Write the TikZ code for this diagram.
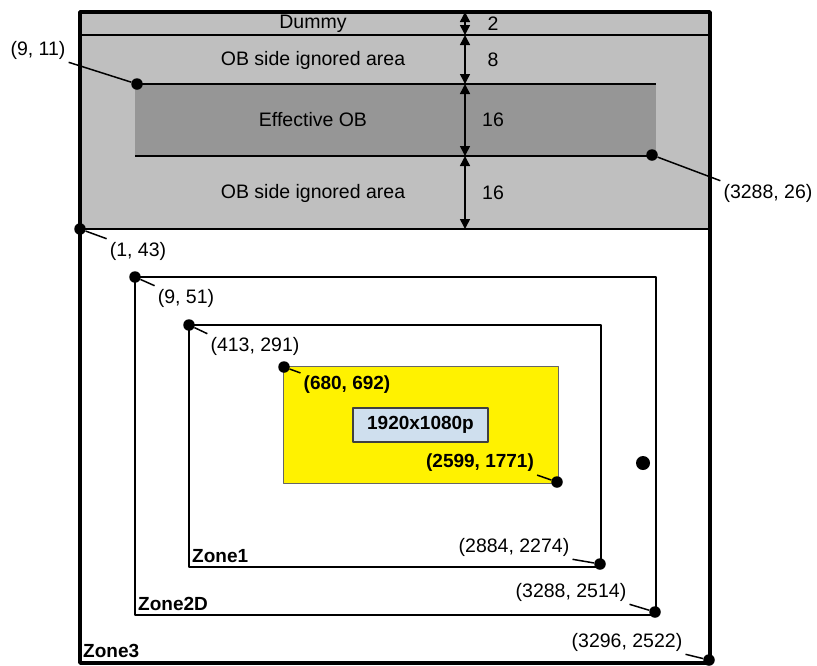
\documentclass[tikz,border=0pt]{standalone}
\usepackage{fontspec}
\setmainfont{Liberation Sans}
\usetikzlibrary{arrows.meta}
\definecolor{resblue}{RGB}{207,223,238}
\begin{document}
\begin{tikzpicture}[>={Triangle[length=10pt,width=10pt]},line join=round,x=1pt,y=-1pt,
	font=\fontsize{19.5}{22}\selectfont,
	dot/.style={circle,fill=black,inner sep=0pt,minimum size=11.5pt},
	lbl/.style={inner sep=3pt},
	bold/.style={font=\fontsize{19}{22}\selectfont\bfseries},
	zone/.style={line width=2pt},
	lead/.style={line width=1.5pt}]
	\useasboundingbox (0,0) rectangle (817,665);
	\fill[black!25] (80,12) rectangle (710,229); % OB area
	\fill[black!41] (135,84) rectangle (656,156); % Effective OB
	\draw[line width=1.5pt] (80,35)--(710,35) (80,229)--(710,229);
	\draw[line width=2pt] (135,84)--(656,84) (135,156)--(656,156);
	\node (dummy) at (313,24) {Dummy};
	\node (obtop) at (313,60) {OB side ignored area};
	\node (effob) at (313,120) {Effective OB};
	\node (obbot) at (313,193) {OB side ignored area};
	\foreach \ya/\yb/\t [count=\i] in {12/35/2,35/84/8,84/156/16,156/229/16}{
		\coordinate (ta\i) at (465,\ya);
		\coordinate (tb\i) at (465,\yb);
		\draw[<->,line width=1.5pt] (ta\i)--(tb\i);
		\node (dim\i) at (493,{(\ya+\yb)/2}) {\t};
	}
	% zones
	\draw[zone] (135,277) rectangle (656,615);
	\draw[zone] (189,325) rectangle (601,567);
	\draw[fill=yellow,draw=black!60,line width=1pt] (283,366) rectangle (558,483);
	\node[draw=black!75,fill=resblue,line width=1.5pt,minimum width=135pt,minimum height=34pt,bold] (res) at (420.5,425) {1920x1080p};
	\draw[line width=3.5pt] (80,12) rectangle (710,663); % outer frame
	\node[anchor=west,inner sep=1pt,bold] (z1) at (191,556) {Zone1};
	\node[anchor=west,inner sep=1pt,bold] (z2) at (137,604) {Zone2D};
	\node[anchor=west,inner sep=1pt,bold] (z3) at (82,651) {Zone3};
	% corner points
	\node[dot] (p911) at (137,84) {};
	\node[dot] (p326) at (652,155) {};
	\node[dot] (p143) at (80,229) {};
	\node[dot] (p951) at (135,277) {};
	\node[dot] (p413) at (189,325) {};
	\node[dot] (p680) at (284,367) {};
	\node[dot] (p2599) at (557,482) {};
	\node[dot] (p2884) at (600,564) {};
	\node[dot] (p3288) at (655,612) {};
	\node[dot] (p3296) at (709,660) {};
	\node[dot,minimum size=14pt] (pz) at (643,463) {};
	\node[lbl] (l911) at (38,50) {(9, 11)};
	\node[lbl] (l326) at (768,193) {(3288, 26)};
	\node[lbl] (l143) at (138,251) {(1, 43)};
	\node[lbl] (l951) at (186,298) {(9, 51)};
	\node[lbl] (l413) at (255,346) {(413, 291)};
	\node[lbl,bold] (l680) at (347,385) {(680, 692)};
	\node[lbl,bold] (l2599) at (480,463) {(2599, 1771)};
	\node[lbl] (l2884) at (514,547) {(2884, 2274)};
	\node[lbl] (l3288) at (571,592) {(3288, 2514)};
	\node[lbl] (l3296) at (627,642) {(3296, 2522)};
	\draw[lead] (p911)--(l911.south east) (p326)--(l326.north west) (p143)--(l143.north west);
	\draw[lead] (p951)--(l951.north west) (p413)--(l413.north west) (p680)--(l680.north west);
	\draw[lead] (p2599)--(l2599.south east) (p2884)--(l2884.south east) (p3288)--(l3288.south east) (p3296)--(l3296.south east);
\end{tikzpicture}
\end{document}
